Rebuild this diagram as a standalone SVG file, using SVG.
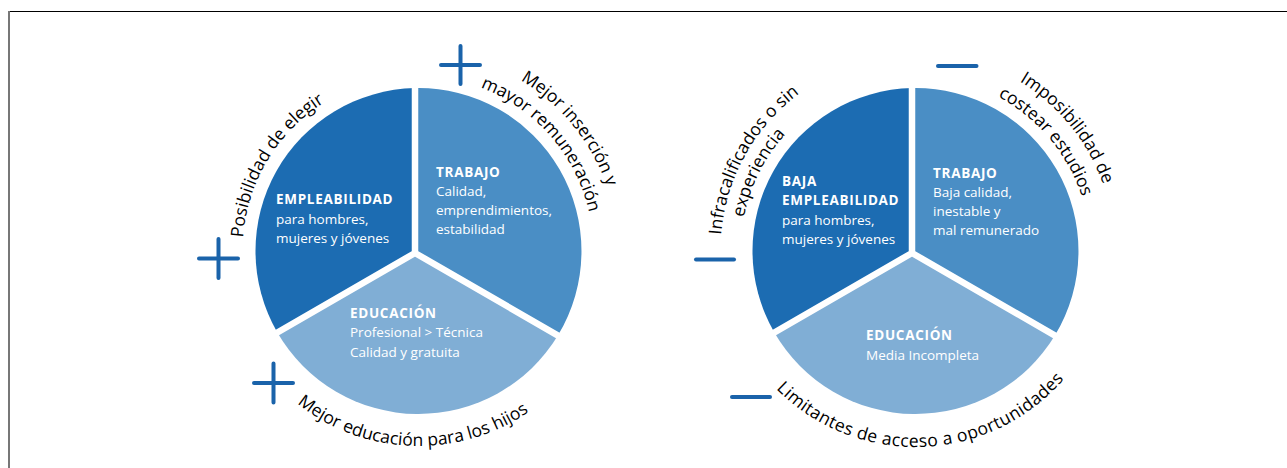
<svg xmlns="http://www.w3.org/2000/svg" width="1287" height="468" viewBox="0 0 1287 468">
  <style>
    .s-dark { fill: #1c6cb2; }
    .s-mid { fill: #4a8ec5; }
    .s-light { fill: #80aed5; }
    .sep { stroke: #ffffff; stroke-width: 6.5; fill: none; }
    .sign { stroke: #1a63aa; stroke-width: 4; stroke-linecap: round; fill: none; }
    .head { font-family: "Open Sans", "Liberation Sans", sans-serif; font-weight: 700; font-size: 13.5px; letter-spacing: 0.7px; fill: #ffffff; }
    .body { font-family: "Open Sans", "Liberation Sans", sans-serif; font-size: 13.5px; fill: #ffffff; }
    .arc { font-family: "Open Sans", "Liberation Sans", sans-serif; font-size: 17.5px; fill: #000000; }
  </style>
  <defs>
    <!-- left wheel, centre (418.5, 251) -->
    <path id="pOpc" d="M253.1,311.2 A176,176 0 0 1 394.0,76.7"/>
    <path id="pIns1" d="M418.5,52 A199,199 0 0 1 613.2,292.4"/>
    <path id="pIns2" d="M412.4,76.1 A175,175 0 0 1 590.8,281.4"/>
    <path id="pHij" d="M264.8,371.0 A195,195 0 0 0 563.4,381.5"/>
    <!-- right wheel, centre (915.5, 251) -->
    <path id="pInf1" d="M733.0,320.0 A196,196 0 0 1 878.1,58.6"/>
    <path id="pInf2" d="M755.1,320.6 A175,175 0 0 1 874.7,80.9"/>
    <path id="pImp1" d="M915.5,52 A199,199 0 0 1 1110.2,292.4"/>
    <path id="pImp2" d="M912.5,76.0 A175,175 0 0 1 1087.3,284.4"/>
    <path id="pLim" d="M749.3,354.9 A196,196 0 0 0 1088.6,343.0"/>
    <g id="wheel">
      <path class="s-dark" d="M415,253 L415,88.04 A163,163 0 0 0 277.33,332.49 Z"/>
      <path class="s-mid" d="M415,253 L415,88.04 A163,163 0 0 1 557.87,335.49 Z"/>
      <path class="s-light" d="M415,253 L277.33,332.49 A163,163 0 0 0 557.87,335.49 Z"/>
      <path class="sep" d="M415,253 L415,80 M415,253 L270,336.7 M415,253 L565,339.6"/>
    </g>
  </defs>

  <!-- frame -->
  <line x1="8" y1="11.5" x2="1287" y2="11.5" stroke="#000000" stroke-width="1.2"/>
  <line x1="9" y1="11" x2="9" y2="468" stroke="#777777" stroke-width="2"/>

  <!-- left wheel: positive outcomes -->
  <g id="wheel-positive">
    <use href="#wheel"/>
    <g id="node-empleabilidad">
      <text class="head" x="276" y="204">EMPLEABILIDAD</text>
      <text class="body" x="276" y="224">para hombres,</text>
      <text class="body" x="276" y="243">mujeres y jóvenes</text>
    </g>
    <g id="node-trabajo">
      <text class="head" x="436" y="177">TRABAJO</text>
      <text class="body" x="436" y="196">Calidad,</text>
      <text class="body" x="436" y="215">emprendimientos,</text>
      <text class="body" x="436" y="234">estabilidad</text>
    </g>
    <g id="node-educacion">
      <text class="head" x="350" y="318">EDUCACIÓN</text>
      <text class="body" x="350" y="337">Profesional &gt; Técnica</text>
      <text class="body" x="350" y="357">Calidad y gratuita</text>
    </g>
    <g id="labels-positive">
      <text class="arc" text-anchor="middle"><textPath href="#pOpc" startOffset="50%">Posibilidad de elegir</textPath></text>
      <text class="arc" text-anchor="middle"><textPath href="#pIns1" startOffset="50%">Mejor inserción y</textPath></text>
      <text class="arc" text-anchor="middle"><textPath href="#pIns2" startOffset="50%">mayor remuneración</textPath></text>
      <text class="arc" text-anchor="middle"><textPath href="#pHij" startOffset="50%">Mejor educación para los hijos</textPath></text>
    </g>
    <g id="signs-positive">
      <path class="sign" d="M441,65 H480 M460.5,46 V84"/>
      <path class="sign" d="M199,258.5 H238 M218.5,239 V278"/>
      <path class="sign" d="M254,383 H293 M273.5,363.5 V402.5"/>
    </g>
  </g>

  <!-- right wheel: negative outcomes -->
  <g id="wheel-negative">
    <use href="#wheel" transform="translate(497,0)"/>
    <g id="node-baja-empleabilidad">
      <text class="head" x="782" y="186">BAJA</text>
      <text class="head" x="782" y="205">EMPLEABILIDAD</text>
      <text class="body" x="782" y="225">para hombres,</text>
      <text class="body" x="782" y="243.5">mujeres y jóvenes</text>
    </g>
    <g id="node-trabajo-bajo">
      <text class="head" x="933" y="177.5">TRABAJO</text>
      <text class="body" x="933" y="197">Baja calidad,</text>
      <text class="body" x="933" y="216">inestable y</text>
      <text class="body" x="933" y="235">mal remunerado</text>
    </g>
    <g id="node-educacion-media">
      <text class="head" x="866" y="340">EDUCACIÓN</text>
      <text class="body" x="866" y="359.5">Media Incompleta</text>
    </g>
    <g id="labels-negative">
      <text class="arc" text-anchor="middle"><textPath href="#pInf1" startOffset="50%">Infracalificados o sin</textPath></text>
      <text class="arc" text-anchor="middle"><textPath href="#pInf2" startOffset="50%">experiencia</textPath></text>
      <text class="arc" text-anchor="middle"><textPath href="#pImp1" startOffset="50%">Imposibilidad de</textPath></text>
      <text class="arc" text-anchor="middle"><textPath href="#pImp2" startOffset="50%">costear estudios</textPath></text>
      <text class="arc" text-anchor="middle" letter-spacing="0.4"><textPath href="#pLim" startOffset="50%">Limitantes de acceso a oportunidades</textPath></text>
    </g>
    <g id="signs-negative">
      <path class="sign" d="M938,66 H976.5"/>
      <path class="sign" d="M696,259.5 H734"/>
      <path class="sign" d="M732,397 H770"/>
    </g>
  </g>
</svg>
